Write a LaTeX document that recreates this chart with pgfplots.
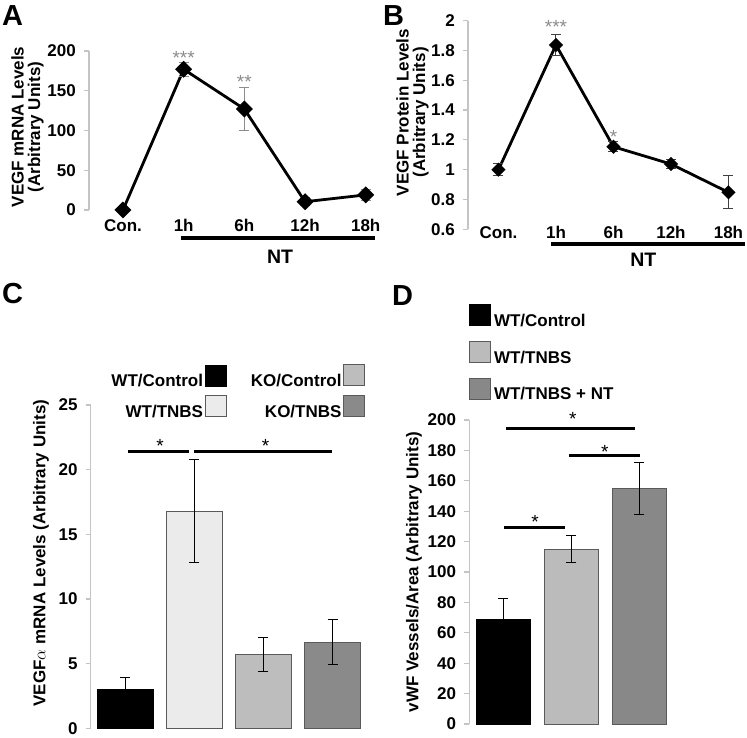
\documentclass[border=0pt]{standalone}
\usepackage{fontspec}
\setmainfont{Liberation Sans}
\usepackage{pgfplots}
\pgfplotsset{compat=1.18}

\newcommand{\tickfont}{\bfseries\fontsize{17}{19}\selectfont}
\newcommand{\labfont}{\bfseries\fontsize{17}{16.5}\selectfont}
\newcommand{\legfont}{\bfseries\fontsize{17}{17}\selectfont}
\newcommand{\starfont}{\fontsize{19}{19}\selectfont}
\newcommand{\ntfont}{\bfseries\fontsize{19.5}{19.5}\selectfont}
\newcommand{\letterfont}{\bfseries\fontsize{29}{29}\selectfont}

\definecolor{axgray}{HTML}{C4C4C4}
\definecolor{stargray}{HTML}{8C8C8C}
\definecolor{errgray}{HTML}{404040}
\definecolor{cWTT}{HTML}{EBEBEB}
\definecolor{cKOC}{HTML}{BDBDBD}
\definecolor{cKOT}{HTML}{8A8A8A}
\definecolor{dWTT}{HTML}{BBBBBB}
\definecolor{dNT}{HTML}{888888}
\definecolor{baredge}{HTML}{5A5A5A}

\pgfplotsset{
  panel/.style={
    scale only axis, clip=false, anchor=south west,
    axis lines*=left,
    x axis line style={draw=none},
    y axis line style={draw=axgray, line width=1.2pt},
    ytick style={draw=axgray, line width=1.2pt},
    xtick style={draw=none},
    tick align=outside,
    major tick length=5pt,
    /pgf/number format/assume math mode=true,
    tick label style={font=\tickfont},
    yticklabel style={anchor=east, inner sep=0pt, xshift=-8pt},
    ylabel style={font=\labfont, align=center, anchor=center},
  },
  boxlegend/.style={legend image code/.code={\draw[##1] (0pt,-4.5pt) rectangle (21pt,16.5pt);}},
  errs/.style={error bars/.cd, y dir=both, y explicit,
    error bar style={#1, line width=1pt},
    error mark options={#1, line width=1pt, mark size=5pt, rotate=90}},
}

\begin{document}
\begin{tikzpicture}
\useasboundingbox (0,0) rectangle (747pt,737pt);

% ---------------- Panel A ----------------
\node[anchor=north west, inner sep=0pt, font=\letterfont] at (2pt,732pt) {A};
\begin{axis}[panel, at={(89pt,527pt)}, width=301pt, height=159pt,
  xmin=-0.56, xmax=4.4, ymin=0, ymax=200,
  ytick={0,50,100,150,200},
  xtick={0,1,2,3,4}, xticklabels={Con.,1h,6h,12h,18h},
  xticklabel style={anchor=base, inner sep=0pt, yshift=-16.7pt},
  ylabel={VEGF mRNA Levels\\(Arbitrary Units)},
  ylabel style={at={(axis description cs:-0.204,0.522)}},
]
\addplot[black, line width=2.8pt, mark=square*, mark size=4.6pt,
  mark options={rotate=45, solid}, errs=stargray]
  coordinates {(0,0) +- (0,0) (1,177) +- (0,9) (2,127) +- (0,27) (3,10.4) +- (0,5) (4,19) +- (0,7)};
\node[font=\starfont, text=stargray, anchor=base, inner sep=0pt] at (axis cs:1,183.6) {***};
\node[font=\starfont, text=stargray, anchor=base, inner sep=0pt] at (axis cs:2,152.2) {**};
\draw[line width=3.5pt] (axis cs:0.955,-35.2) -- (axis cs:4.15,-35.2);
\node[font=\ntfont, inner sep=0pt] at (axis cs:2.59,-59.1) {NT};
\end{axis}

% ---------------- Panel B ----------------
\node[anchor=north west, inner sep=0pt, font=\letterfont] at (383pt,732pt) {B};
\begin{axis}[panel, at={(468pt,507.7pt)}, width=277.7pt, height=208.6pt,
  xmin=-0.53, xmax=4.3, ymin=0.6, ymax=2,
  ytick={0.6,0.8,1,1.2,1.4,1.6,1.8,2},
  yticklabels={0.6,0.8,1,1.2,1.4,1.6,1.8,2},
  xtick={0,1,2,3,4}, xticklabels={Con.,1h,6h,12h,18h},
  xticklabel style={anchor=base, inner sep=0pt, yshift=-4pt},
  ylabel={VEGF Protein Levels\\(Arbitrary Units)},
  ylabel style={at={(axis description cs:-0.2,0.56)}},
]
\addplot[black, line width=2.8pt, mark=square*, mark size=3.6pt,
  mark options={rotate=45, solid}, errs=errgray]
  coordinates {(0,1.0) +- (0,0.04) (1,1.837) +- (0,0.07) (2,1.154) +- (0,0.035) (3,1.038) +- (0,0.03) (4,0.848) +- (0,0.11)};
\node[font=\starfont, text=stargray, anchor=base, inner sep=0pt] at (axis cs:1,1.911) {***};
\node[font=\starfont, text=stargray, anchor=base, inner sep=0pt] at (axis cs:2,1.176) {*};
\draw[line width=3.5pt] (axis cs:0.92,0.501) -- (axis cs:4.29,0.501);
\node[font=\ntfont, inner sep=0pt] at (axis cs:2.52,0.394) {NT};
\end{axis}

% ---------------- Panel C ----------------
\node[anchor=north west, inner sep=0pt, font=\letterfont] at (2pt,454pt) {C};
\begin{axis}[panel, at={(90.7pt,8.7pt)}, width=276.3pt, height=323.3pt,
  xmin=-0.504, xmax=3.5, ymin=0, ymax=25,
  ytick={0,5,10,15,20,25}, xtick=\empty,
  ylabel={VEGF$\alpha$ mRNA Levels (Arbitrary Units)},
  ylabel style={at={(axis description cs:-0.18,0.542)}},
  legend columns=2, legend plot pos=right, legend cell align=right,
  legend style={draw=none, fill=none, inner sep=0pt,
    at={(axis cs:3.471,28.15)}, anchor=north east, font=\legfont,
    row sep=5pt, nodes={inner sep=1.5pt},
    /tikz/every even column/.append style={column sep=23pt}},
]
\addplot[ybar, bar width=0.807, bar shift=0pt, boxlegend, fill=black, draw=black, errs=black]
  coordinates {(0,3.02) +- (0,0.92)};
\addlegendentry{WT/Control}
\addplot[ybar, bar width=0.807, bar shift=0pt, boxlegend, fill=cKOC, draw=baredge, line width=0.8pt, errs=black]
  coordinates {(2,5.72) +- (0,1.3)};
\addlegendentry{KO/Control}
\addplot[ybar, bar width=0.807, bar shift=0pt, boxlegend, fill=cWTT, draw=baredge, line width=0.8pt, errs=black]
  coordinates {(1,16.78) +- (0,3.97)};
\addlegendentry{WT/TNBS}
\addplot[ybar, bar width=0.807, bar shift=0pt, boxlegend, fill=cKOT, draw=baredge, line width=0.8pt, errs=black]
  coordinates {(3,6.68) +- (0,1.76)};
\addlegendentry{KO/TNBS}
\draw[line width=3pt] (axis cs:0.036,21.39) -- (axis cs:0.92,21.39);
\draw[line width=3pt] (axis cs:0.993,21.39) -- (axis cs:2.99,21.39);
\node[font=\starfont, anchor=base, inner sep=0pt] at (axis cs:0.5,21.35) {*};
\node[font=\starfont, anchor=base, inner sep=0pt] at (axis cs:2.03,21.35) {*};
\end{axis}

% ---------------- Panel D ----------------
\node[anchor=north west, inner sep=0pt, font=\letterfont] at (392pt,452pt) {D};
\begin{axis}[panel, at={(469.3pt,13pt)}, width=204.2pt, height=304pt,
  xmin=-0.5, xmax=2.5, ymin=0, ymax=200,
  ytick={0,20,40,60,80,100,120,140,160,180,200}, xtick=\empty,
  ylabel={vWF Vessels/Area (Arbitrary Units)},
  ylabel style={at={(axis description cs:-0.271,0.5)}},
  legend columns=1, legend plot pos=left, legend cell align=left,
  legend style={draw=none, fill=none, inner sep=0pt,
    at={(axis cs:-0.504,276.3)}, anchor=north west, font=\legfont,
    row sep=10pt, nodes={inner sep=3pt}},
]
\addplot[ybar, bar width=0.803, bar shift=0pt, boxlegend, fill=black, draw=black, errs=black]
  coordinates {(0,68.9) +- (0,13.8)};
\addlegendentry{WT/Control}
\addplot[ybar, bar width=0.803, bar shift=0pt, boxlegend, fill=dWTT, draw=baredge, line width=0.8pt, errs=black]
  coordinates {(1,115.1) +- (0,8.9)};
\addlegendentry{WT/TNBS}
\addplot[ybar, bar width=0.803, bar shift=0pt, boxlegend, fill=dNT, draw=baredge, line width=0.8pt, errs=black]
  coordinates {(2,155) +- (0,17)};
\addlegendentry{WT/TNBS + NT}
\draw[line width=3pt] (axis cs:0.04,194.1) -- (axis cs:1.93,194.1);
\draw[line width=3pt] (axis cs:0.965,176.5) -- (axis cs:2.007,176.5);
\draw[line width=3pt] (axis cs:0.01,129.1) -- (axis cs:0.906,129.1);
\node[font=\starfont, anchor=base, inner sep=0pt] at (axis cs:1.02,196.5) {*};
\node[font=\starfont, anchor=base, inner sep=0pt] at (axis cs:1.49,175) {*};
\node[font=\starfont, anchor=base, inner sep=0pt] at (axis cs:0.465,128.3) {*};
\end{axis}
\end{tikzpicture}
\end{document}
